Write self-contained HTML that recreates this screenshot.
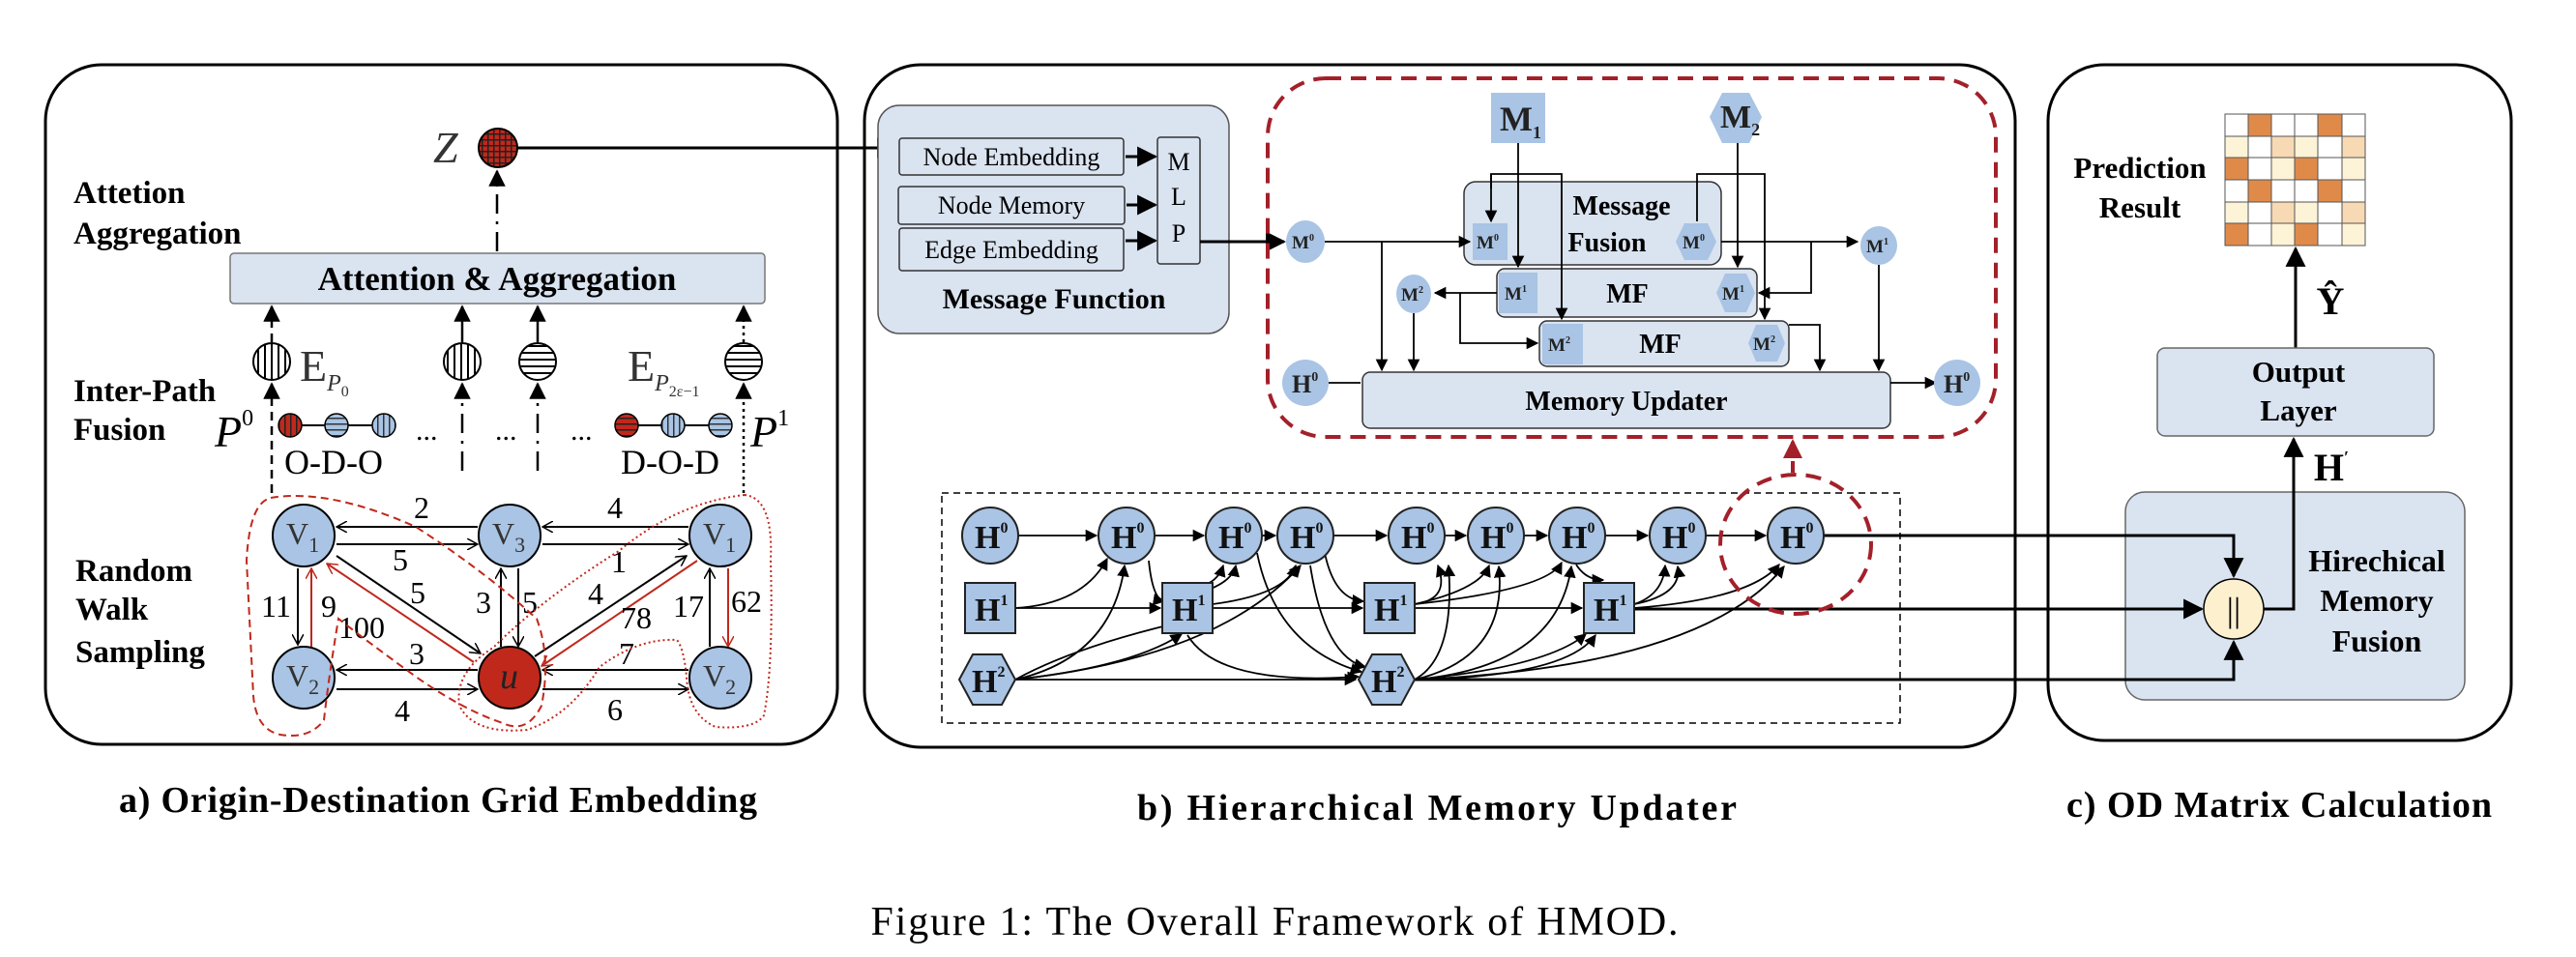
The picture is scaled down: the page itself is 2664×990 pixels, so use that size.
<!DOCTYPE html>
<html><head><meta charset="utf-8"><style>
html,body{margin:0;padding:0;background:#fff;}
svg{display:block;}
</style></head><body>
<svg width="2664" height="990" viewBox="0 0 2664 990" xmlns="http://www.w3.org/2000/svg" font-family="'Times New Roman','Liberation Serif',serif" style="font-family:'Times New Roman','Liberation Serif',serif">
<defs>
<marker id="a" viewBox="0 0 10 10" refX="9" refY="5" markerWidth="7" markerHeight="7" orient="auto"><path d="M0,0L10,5L0,10z" fill="#000"/></marker>
<marker id="o" viewBox="0 0 12 12" refX="11" refY="6" markerWidth="12" markerHeight="12" markerUnits="userSpaceOnUse" orient="auto"><path d="M0,0L11,6L0,12" fill="none" stroke="#000" stroke-width="1.5"/></marker>
<marker id="r" viewBox="0 0 12 12" refX="11" refY="6" markerWidth="12" markerHeight="12" markerUnits="userSpaceOnUse" orient="auto"><path d="M0,0L11,6L0,12" fill="none" stroke="#c0281c" stroke-width="1.5"/></marker>
<marker id="ra" viewBox="0 0 10 10" refX="9" refY="5" markerWidth="5" markerHeight="5" orient="auto"><path d="M0,0L10,5L0,10z" fill="#a3202a"/></marker>
<pattern id="vs" width="7" height="7" patternUnits="userSpaceOnUse"><rect width="7" height="7" fill="#fff"/><rect width="2" height="7" fill="#000"/></pattern>
<pattern id="hs" width="7" height="7" patternUnits="userSpaceOnUse"><rect width="7" height="7" fill="#fff"/><rect width="7" height="2" fill="#000"/></pattern>
<pattern id="vb" width="6" height="6" patternUnits="userSpaceOnUse"><rect width="6" height="6" fill="#a9c4e4"/><rect width="1.5" height="6" fill="#333"/></pattern>
<pattern id="hb" width="6" height="6" patternUnits="userSpaceOnUse"><rect width="6" height="6" fill="#a9c4e4"/><rect width="6" height="1.5" fill="#333"/></pattern>
<pattern id="vr" width="6" height="6" patternUnits="userSpaceOnUse"><rect width="6" height="6" fill="#c0281c"/><rect width="1.5" height="6" fill="#222"/></pattern>
<pattern id="hr" width="6" height="6" patternUnits="userSpaceOnUse"><rect width="6" height="6" fill="#c0281c"/><rect width="6" height="1.5" fill="#222"/></pattern>
<pattern id="gr" width="6" height="6" patternUnits="userSpaceOnUse"><rect width="6" height="6" fill="#c0281c"/><rect width="1.5" height="6" fill="#222"/><rect width="6" height="1.5" fill="#222"/></pattern>
</defs>

<!-- ===== Panel a ===== -->
<rect x="47" y="67" width="819" height="703" rx="58" fill="none" stroke="#000" stroke-width="3"/>
<text x="453" y="840" font-size="38" font-weight="bold" text-anchor="middle" textLength="660">a) Origin-Destination Grid Embedding</text>

<g font-weight="bold" font-size="33">
<text x="76" y="210">Attetion</text><text x="76" y="252">Aggregation</text>
<text x="76" y="415">Inter-Path</text><text x="76" y="455">Fusion</text>
<text x="78" y="601">Random</text><text x="78" y="641">Walk</text><text x="78" y="685">Sampling</text>
</g>

<text x="448" y="168" font-size="46" font-style="italic" fill="#333">Z</text>
<circle cx="515" cy="153" r="20" fill="url(#gr)" stroke="#000" stroke-width="2"/>
<line x1="535" y1="153" x2="926" y2="153" stroke="#000" stroke-width="3" marker-end="url(#a)"/>
<line x1="514" y1="260" x2="514" y2="177" stroke="#000" stroke-width="2.5" stroke-dasharray="20,8,3,8" marker-end="url(#a)"/>

<rect x="238" y="262" width="553" height="52" rx="4" fill="#dae3f0" stroke="#777" stroke-width="1.5"/>
<text x="514" y="300" font-size="35" font-weight="bold" text-anchor="middle">Attention &amp; Aggregation</text>

<circle cx="281" cy="374" r="19" fill="url(#vs)" stroke="#000" stroke-width="2"/>
<circle cx="478" cy="374" r="19" fill="url(#vs)" stroke="#000" stroke-width="2"/>
<circle cx="556" cy="374" r="19" fill="url(#hs)" stroke="#000" stroke-width="2"/>
<circle cx="769" cy="374" r="19" fill="url(#hs)" stroke="#000" stroke-width="2"/>
<line x1="281" y1="354" x2="281" y2="317" stroke="#000" stroke-width="2.5" stroke-dasharray="9,6" marker-end="url(#a)"/>
<line x1="478" y1="354" x2="478" y2="317" stroke="#000" stroke-width="2.5" marker-end="url(#a)"/>
<line x1="556" y1="354" x2="556" y2="317" stroke="#000" stroke-width="2.5" marker-end="url(#a)"/>
<line x1="769" y1="354" x2="769" y2="317" stroke="#000" stroke-width="2.5" stroke-dasharray="3,4" marker-end="url(#a)"/>
<text x="310" y="394" font-size="46" fill="#333">E<tspan font-size="24" font-style="italic" dy="10">P</tspan><tspan font-size="16" dy="6">0</tspan></text>
<text x="649" y="394" font-size="46" fill="#333">E<tspan font-size="24" font-style="italic" dy="10">P</tspan><tspan font-size="16" dy="6">2ε−1</tspan></text>

<line x1="300" y1="440" x2="397" y2="440" stroke="#000" stroke-width="2"/>
<circle cx="300" cy="440" r="12" fill="url(#vr)" stroke="#000" stroke-width="1.5"/>
<circle cx="348" cy="440" r="12" fill="url(#hb)" stroke="#000" stroke-width="1.5"/>
<circle cx="397" cy="440" r="12" fill="url(#vb)" stroke="#000" stroke-width="1.5"/>
<line x1="648" y1="440" x2="745" y2="440" stroke="#000" stroke-width="2"/>
<circle cx="648" cy="440" r="12" fill="url(#hr)" stroke="#000" stroke-width="1.5"/>
<circle cx="696" cy="440" r="12" fill="url(#vb)" stroke="#000" stroke-width="1.5"/>
<circle cx="745" cy="440" r="12" fill="url(#hb)" stroke="#000" stroke-width="1.5"/>
<text x="294" y="490" font-size="36">O-D-O</text>
<text x="642" y="490" font-size="36">D-O-D</text>
<text x="222" y="462" font-size="46" font-style="italic">P<tspan font-size="24" dy="-22" font-style="normal">0</tspan></text>
<text x="776" y="462" font-size="46" font-style="italic">P<tspan font-size="24" dy="-22" font-style="normal">1</tspan></text>
<g font-size="30"><text x="430" y="455">...</text><text x="512" y="455">...</text><text x="590" y="455">...</text></g>
<line x1="281" y1="510" x2="281" y2="397" stroke="#000" stroke-width="2.5" stroke-dasharray="9,6" marker-end="url(#a)"/>
<line x1="478" y1="487" x2="478" y2="397" stroke="#000" stroke-width="2.5" stroke-dasharray="20,8,3,8" marker-end="url(#a)"/>
<line x1="556" y1="487" x2="556" y2="397" stroke="#000" stroke-width="2.5" stroke-dasharray="20,8,3,8" marker-end="url(#a)"/>
<line x1="769" y1="510" x2="769" y2="397" stroke="#000" stroke-width="2.5" stroke-dasharray="3,4" marker-end="url(#a)"/>

<g stroke="#000" stroke-width="2" fill="none">
<line x1="494" y1="545" x2="348" y2="545" marker-end="url(#o)"/>
<line x1="348" y1="563" x2="494" y2="563" marker-end="url(#o)"/>
<line x1="712" y1="545" x2="561" y2="545" marker-end="url(#o)"/>
<line x1="561" y1="563" x2="712" y2="563" marker-end="url(#o)"/>
<line x1="308" y1="588" x2="308" y2="667" marker-end="url(#o)"/>
<line x1="494" y1="693" x2="348" y2="693" marker-end="url(#o)"/>
<line x1="348" y1="713" x2="494" y2="713" marker-end="url(#o)"/>
<line x1="712" y1="693" x2="561" y2="693" marker-end="url(#o)"/>
<line x1="561" y1="713" x2="712" y2="713" marker-end="url(#o)"/>
<line x1="518" y1="669" x2="518" y2="588" marker-end="url(#o)"/>
<line x1="536" y1="588" x2="536" y2="669" marker-end="url(#o)"/>
<line x1="348" y1="575" x2="497" y2="676" marker-end="url(#o)"/>
<line x1="553" y1="679" x2="710" y2="575" marker-end="url(#o)"/>
<line x1="734" y1="669" x2="734" y2="588" marker-end="url(#o)"/>
</g>
<g stroke="#c0281c" stroke-width="2" fill="none">
<line x1="322" y1="669" x2="322" y2="588" marker-end="url(#r)"/>
<line x1="490" y1="685" x2="338" y2="583" marker-end="url(#r)"/>
<line x1="721" y1="580" x2="560" y2="689" marker-end="url(#r)"/>
<line x1="753" y1="588" x2="753" y2="669" marker-end="url(#r)"/>
</g>
<g stroke="#000" stroke-width="2">
<circle cx="314" cy="554" r="32" fill="#a9c4e4"/><circle cx="527" cy="554" r="32" fill="#a9c4e4"/><circle cx="745" cy="554" r="32" fill="#a9c4e4"/>
<circle cx="314" cy="701" r="32" fill="#a9c4e4"/><circle cx="527" cy="701" r="32" fill="#c0281c"/><circle cx="745" cy="701" r="32" fill="#a9c4e4"/>
</g>
<g font-size="32" fill="#333">
<text x="296" y="563">V<tspan font-size="22" dy="8">1</tspan></text>
<text x="509" y="563">V<tspan font-size="22" dy="8">3</tspan></text>
<text x="727" y="563">V<tspan font-size="22" dy="8">1</tspan></text>
<text x="296" y="710">V<tspan font-size="22" dy="8">2</tspan></text>
<text x="727" y="710">V<tspan font-size="22" dy="8">2</tspan></text>
<text x="517" y="712" font-style="italic" font-size="38" fill="#222">u</text>
</g>
<g font-size="32">
<text x="428" y="536">2</text><text x="406" y="590">5</text><text x="628" y="536">4</text><text x="632" y="592">1</text>
<text x="270" y="638">11</text><text x="332" y="638">9</text><text x="424" y="624">5</text><text x="350" y="660">100</text>
<text x="492" y="634">3</text><text x="540" y="634">5</text><text x="608" y="625">4</text><text x="642" y="650">78</text>
<text x="696" y="638">17</text><text x="756" y="633">62</text>
<text x="423" y="687">3</text><text x="408" y="746">4</text><text x="640" y="687">7</text><text x="628" y="745">6</text>
</g>
<path d="M280,515 Q340,505 430,545 Q500,590 555,640 Q570,680 560,730 Q545,760 520,748 Q480,735 430,700 Q375,660 350,640 Q340,700 335,745 Q320,765 290,760 Q265,755 262,720 Q258,640 255,580 Q258,520 280,515Z" fill="none" stroke="#c0281c" stroke-width="2" stroke-dasharray="8,5"/>
<path d="M770,512 Q800,515 797,580 Q800,690 790,740 Q780,755 740,752 Q712,740 710,700 Q707,670 700,662 Q660,660 620,690 Q590,740 545,755 Q490,760 475,730 Q470,695 510,670 Q560,620 640,570 Q700,520 770,512Z" fill="none" stroke="#c0281c" stroke-width="2" stroke-dasharray="2,3"/>

<!-- ===== Panel b ===== -->
<rect x="894" y="67" width="1190" height="706" rx="58" fill="none" stroke="#000" stroke-width="3"/>
<text x="1486" y="848" font-size="38" font-weight="bold" text-anchor="middle" textLength="620">b) Hierarchical Memory Updater</text>

<rect x="908" y="109" width="363" height="236" rx="22" fill="#dae3f0" stroke="#555" stroke-width="1.5"/>
<g fill="#dae3f0" stroke="#333" stroke-width="1.5">
<rect x="930" y="143" width="232" height="38" rx="3"/>
<rect x="929" y="193" width="234" height="39" rx="3"/>
<rect x="930" y="236" width="232" height="44" rx="3"/>
<rect x="1197" y="142" width="44" height="131" rx="3"/>
</g>
<g font-size="26" text-anchor="middle">
<text x="1046" y="171">Node Embedding</text><text x="1046" y="221">Node Memory</text><text x="1046" y="267">Edge Embedding</text>
<text x="1219" y="176">M</text><text x="1219" y="212">L</text><text x="1219" y="250">P</text>
</g>
<text x="1090" y="319" font-size="30" font-weight="bold" text-anchor="middle">Message Function</text>
<g stroke="#000" stroke-width="3">
<line x1="1164" y1="162" x2="1195" y2="162" marker-end="url(#a)"/>
<line x1="1165" y1="212" x2="1195" y2="212" marker-end="url(#a)"/>
<line x1="1164" y1="249" x2="1195" y2="249" marker-end="url(#a)"/>
<line x1="1241" y1="250" x2="1328" y2="250" marker-end="url(#a)"/>
</g>

<rect x="1311" y="81" width="753" height="371" rx="60" fill="none" stroke="#a3202a" stroke-width="4" stroke-dasharray="16,10"/>
<line x1="1854" y1="489" x2="1854" y2="456" stroke="#a3202a" stroke-width="4" stroke-dasharray="12,8" marker-end="url(#ra)"/>

<g fill="#dae3f0" stroke="#333" stroke-width="1.5">
<rect x="1514" y="188" width="266" height="86" rx="12"/>
<rect x="1548" y="278" width="269" height="50" rx="8"/>
<rect x="1592" y="332" width="258" height="47" rx="8"/>
<rect x="1409" y="385" width="546" height="58" rx="8"/>
</g>
<g font-weight="bold" font-size="28" text-anchor="middle">
<text x="1677" y="222">Message</text><text x="1662" y="260">Fusion</text>
<text x="1683" y="313">MF</text><text x="1717" y="365">MF</text>
<text x="1682" y="424">Memory Updater</text>
</g>
<g stroke="#000" stroke-width="1.8" fill="none">
<line x1="1370" y1="250" x2="1520" y2="250" marker-end="url(#a)"/>
<polyline points="1570,148 1570,276" marker-end="url(#a)"/>
<polyline points="1542,195 1542,180 1615,180 1615,330" marker-end="url(#a)"/>
<polyline points="1542,180 1542,229" marker-end="url(#a)"/>
<polyline points="1797,148 1797,276" marker-end="url(#a)"/>
<polyline points="1755,229 1755,180 1825,180 1825,330" marker-end="url(#a)"/>
<line x1="1780" y1="250" x2="1921" y2="250" marker-end="url(#a)"/>
<polyline points="1873,250 1873,303 1819,303" marker-end="url(#a)"/>
<line x1="1548" y1="303" x2="1484" y2="303" marker-end="url(#a)"/>
<polyline points="1510,303 1510,355 1590,355" marker-end="url(#a)"/>
<polyline points="1850,336 1882,336 1882,383" marker-end="url(#a)"/>
<line x1="1943" y1="274" x2="1943" y2="383" marker-end="url(#a)"/>
<line x1="1429" y1="250" x2="1429" y2="383" marker-end="url(#a)"/>
<line x1="1462" y1="324" x2="1462" y2="383" marker-end="url(#a)"/>
<line x1="1370" y1="396" x2="1407" y2="396"/>
<line x1="1955" y1="396" x2="2002" y2="396" marker-end="url(#a)"/>
</g>
<g fill="#a9c4e4">
<rect x="1542" y="96" width="56" height="52"/>
<polygon points="1768,121 1781,96 1809,96 1822,121 1809,148 1781,148"/>
<ellipse cx="1350" cy="250" rx="20" ry="22"/>
<ellipse cx="1943" cy="254" rx="19" ry="20"/>
<ellipse cx="1462" cy="304" rx="18" ry="20"/>
<ellipse cx="1350" cy="396" rx="24" ry="24"/>
<ellipse cx="2024" cy="396" rx="24" ry="24"/>
<rect x="1523" y="231" width="36" height="38"/>
<polygon points="1733,250 1742,231 1766,231 1775,250 1766,269 1742,269"/>
<rect x="1550" y="282" width="40" height="42"/>
<polygon points="1775,303 1784,283 1806,283 1815,303 1806,323 1784,323"/>
<rect x="1595" y="335" width="42" height="42"/>
<polygon points="1808,355 1816,336 1838,336 1846,355 1838,374 1816,374"/>
</g>
<g font-weight="bold" fill="#222">
<text x="1551" y="135" font-size="36">M<tspan font-size="18" dy="8">1</tspan></text>
<text x="1779" y="132" font-size="34">M<tspan font-size="18" dy="8">2</tspan></text>
<g font-size="19">
<text x="1336" y="257">M<tspan font-size="10" dy="-8">0</tspan></text>
<text x="1930" y="261">M<tspan font-size="10" dy="-8">1</tspan></text>
<text x="1449" y="311">M<tspan font-size="10" dy="-8">2</tspan></text>
<text x="1527" y="257">M<tspan font-size="10" dy="-8">0</tspan></text>
<text x="1740" y="257">M<tspan font-size="10" dy="-8">0</tspan></text>
<text x="1556" y="310">M<tspan font-size="10" dy="-8">1</tspan></text>
<text x="1781" y="310">M<tspan font-size="10" dy="-8">1</tspan></text>
<text x="1601" y="363">M<tspan font-size="10" dy="-8">2</tspan></text>
<text x="1813" y="362">M<tspan font-size="10" dy="-8">2</tspan></text>
</g>
<text x="1336" y="406" font-size="26">H<tspan font-size="14" dy="-12">0</tspan></text>
<text x="2010" y="406" font-size="26">H<tspan font-size="14" dy="-12">0</tspan></text>
</g>

<rect x="974" y="510" width="991" height="238" fill="none" stroke="#000" stroke-width="1.5" stroke-dasharray="7,5"/>
<!-- panel c HMF box drawn early so lines appear on top -->
<rect x="2198" y="509" width="351" height="215" rx="20" fill="#dae3f0" stroke="#666" stroke-width="1.5"/>
<g stroke="#000" stroke-width="1.8" fill="none">
<line x1="1053" y1="554" x2="1134" y2="554" marker-end="url(#a)"/>
<line x1="1194" y1="554" x2="1245" y2="554" marker-end="url(#a)"/>
<line x1="1305" y1="554" x2="1319" y2="554" marker-end="url(#a)"/>
<line x1="1379" y1="554" x2="1434" y2="554" marker-end="url(#a)"/>
<line x1="1494" y1="554" x2="1516" y2="554" marker-end="url(#a)"/>
<line x1="1576" y1="554" x2="1600" y2="554" marker-end="url(#a)"/>
<line x1="1660" y1="554" x2="1704" y2="554" marker-end="url(#a)"/>
<line x1="1764" y1="554" x2="1826" y2="554" marker-end="url(#a)"/>
<line x1="1050" y1="629" x2="1200" y2="629" marker-end="url(#a)"/>
<line x1="1254" y1="629" x2="1409" y2="629" marker-end="url(#a)"/>
<line x1="1463" y1="629" x2="1636" y2="629" marker-end="url(#a)"/>
<line x1="1050" y1="703" x2="1402" y2="703" marker-end="url(#a)"/>
<path d="M1050,629 Q1120,625 1145,578" marker-end="url(#a)"/>
<path d="M1050,703 Q1150,680 1163,585" marker-end="url(#a)"/>
<path d="M1050,703 Q1110,670 1215,645" marker-end="url(#a)"/>
<path d="M1050,703 Q1170,690 1222,656" marker-end="url(#a)"/>
<path d="M1050,703 Q1260,680 1345,585" marker-end="url(#a)"/>
<path d="M1188,580 Q1192,620 1204,622" marker-end="url(#a)"/>
<path d="M1246,605 Q1260,600 1265,585" marker-end="url(#a)"/>
<path d="M1250,610 Q1275,600 1278,585" marker-end="url(#a)"/>
<path d="M1254,625 Q1330,615 1340,585" marker-end="url(#a)"/>
<path d="M1228,657 Q1260,710 1405,700" marker-end="url(#a)"/>
<path d="M1300,572 Q1320,670 1408,695" marker-end="url(#a)"/>
<path d="M1355,585 Q1370,680 1412,690" marker-end="url(#a)"/>
<path d="M1370,572 Q1380,620 1410,622" marker-end="url(#a)"/>
<path d="M1463,625 Q1500,620 1487,585" marker-end="url(#a)"/>
<path d="M1463,625 Q1530,610 1540,585" marker-end="url(#a)"/>
<path d="M1463,625 Q1600,610 1615,582" marker-end="url(#a)"/>
<path d="M1463,703 Q1505,680 1498,585" marker-end="url(#a)"/>
<path d="M1463,703 Q1560,680 1550,586" marker-end="url(#a)"/>
<path d="M1463,703 Q1610,690 1625,586" marker-end="url(#a)"/>
<path d="M1463,703 Q1600,690 1640,656" marker-end="url(#a)"/>
<path d="M1463,703 Q1620,700 1650,657" marker-end="url(#a)"/>
<path d="M1463,703 Q1760,690 1845,586" marker-end="url(#a)"/>
<path d="M1630,584 Q1640,600 1658,600" marker-end="url(#a)"/>
<path d="M1690,625 Q1720,615 1722,585" marker-end="url(#a)"/>
<path d="M1690,625 Q1740,615 1735,586" marker-end="url(#a)"/>
<path d="M1690,629 Q1810,620 1840,584" marker-end="url(#a)"/>
</g>
<g stroke="#000" stroke-width="3" fill="none">
<polyline points="1886,554 2310,554 2310,596" marker-end="url(#a)"/>
<line x1="1690" y1="630" x2="2277" y2="630" marker-end="url(#a)"/>
<polyline points="1463,703 2310,703 2310,664" marker-end="url(#a)"/>
</g>
<g fill="#a9c4e4" stroke="#222" stroke-width="2">
<circle cx="1024" cy="554" r="29"/><circle cx="1165" cy="554" r="29"/><circle cx="1276" cy="554" r="29"/><circle cx="1350" cy="554" r="29"/><circle cx="1465" cy="554" r="29"/><circle cx="1547" cy="554" r="29"/><circle cx="1631" cy="554" r="29"/><circle cx="1735" cy="554" r="29"/><circle cx="1857" cy="554" r="29"/>
<rect x="998" y="603" width="52" height="52"/><rect x="1202" y="603" width="52" height="52"/><rect x="1411" y="603" width="52" height="52"/><rect x="1638" y="603" width="52" height="52"/>
<polygon points="992,703 1006,677 1036,677 1050,703 1036,729 1006,729"/>
<polygon points="1405,703 1419,677 1449,677 1463,703 1449,729 1419,729"/>
</g>
<g font-weight="bold" font-size="34" fill="#111">
<text x="1008" y="567">H<tspan font-size="16" dy="-16">0</tspan></text>
<text x="1149" y="567">H<tspan font-size="16" dy="-16">0</tspan></text>
<text x="1260" y="567">H<tspan font-size="16" dy="-16">0</tspan></text>
<text x="1334" y="567">H<tspan font-size="16" dy="-16">0</tspan></text>
<text x="1449" y="567">H<tspan font-size="16" dy="-16">0</tspan></text>
<text x="1531" y="567">H<tspan font-size="16" dy="-16">0</tspan></text>
<text x="1615" y="567">H<tspan font-size="16" dy="-16">0</tspan></text>
<text x="1719" y="567">H<tspan font-size="16" dy="-16">0</tspan></text>
<text x="1841" y="567">H<tspan font-size="16" dy="-16">0</tspan></text>
<text x="1008" y="642">H<tspan font-size="16" dy="-16">1</tspan></text>
<text x="1212" y="642">H<tspan font-size="16" dy="-16">1</tspan></text>
<text x="1421" y="642">H<tspan font-size="16" dy="-16">1</tspan></text>
<text x="1648" y="642">H<tspan font-size="16" dy="-16">1</tspan></text>
<text x="1005" y="716">H<tspan font-size="16" dy="-16">2</tspan></text>
<text x="1418" y="716">H<tspan font-size="16" dy="-16">2</tspan></text>
</g>
<ellipse cx="1857" cy="563" rx="78" ry="72" fill="none" stroke="#a3202a" stroke-width="4" stroke-dasharray="16,10"/>

<!-- ===== Panel c ===== -->
<rect x="2118" y="67" width="479" height="699" rx="58" fill="none" stroke="#000" stroke-width="3"/>
<text x="2357" y="845" font-size="38" font-weight="bold" text-anchor="middle" textLength="440">c) OD Matrix Calculation</text>
<g font-weight="bold" font-size="31" text-anchor="middle">
<text x="2213" y="184">Prediction</text><text x="2213" y="225">Result</text>
</g>
<g stroke="#555" stroke-width="1">
<rect x="2301" y="118" width="24" height="23" fill="#fff"/><rect x="2325" y="118" width="24" height="23" fill="#e08a4a"/><rect x="2349" y="118" width="24" height="23" fill="#fff"/><rect x="2373" y="118" width="24" height="23" fill="#fff"/><rect x="2397" y="118" width="25" height="23" fill="#e08a4a"/><rect x="2422" y="118" width="24" height="23" fill="#fff"/>
<rect x="2301" y="141" width="24" height="22" fill="#fdf3d6"/><rect x="2325" y="141" width="24" height="22" fill="#fff"/><rect x="2349" y="141" width="24" height="22" fill="#f7d9b3"/><rect x="2373" y="141" width="24" height="22" fill="#fdf3d6"/><rect x="2397" y="141" width="25" height="22" fill="#fff"/><rect x="2422" y="141" width="24" height="22" fill="#f7d9b3"/>
<rect x="2301" y="163" width="24" height="23" fill="#e08a4a"/><rect x="2325" y="163" width="24" height="23" fill="#fff"/><rect x="2349" y="163" width="24" height="23" fill="#fdf3d6"/><rect x="2373" y="163" width="24" height="23" fill="#e08a4a"/><rect x="2397" y="163" width="25" height="23" fill="#fff"/><rect x="2422" y="163" width="24" height="23" fill="#fdf3d6"/>
<rect x="2301" y="186" width="24" height="23" fill="#fff"/><rect x="2325" y="186" width="24" height="23" fill="#e08a4a"/><rect x="2349" y="186" width="24" height="23" fill="#fff"/><rect x="2373" y="186" width="24" height="23" fill="#fff"/><rect x="2397" y="186" width="25" height="23" fill="#e08a4a"/><rect x="2422" y="186" width="24" height="23" fill="#fff"/>
<rect x="2301" y="209" width="24" height="22" fill="#fdf3d6"/><rect x="2325" y="209" width="24" height="22" fill="#fff"/><rect x="2349" y="209" width="24" height="22" fill="#f7d9b3"/><rect x="2373" y="209" width="24" height="22" fill="#fdf3d6"/><rect x="2397" y="209" width="25" height="22" fill="#fff"/><rect x="2422" y="209" width="24" height="22" fill="#f7d9b3"/>
<rect x="2301" y="231" width="24" height="23" fill="#e08a4a"/><rect x="2325" y="231" width="24" height="23" fill="#fff"/><rect x="2349" y="231" width="24" height="23" fill="#fdf3d6"/><rect x="2373" y="231" width="24" height="23" fill="#e08a4a"/><rect x="2397" y="231" width="25" height="23" fill="#fff"/><rect x="2422" y="231" width="24" height="23" fill="#fdf3d6"/>
</g>
<line x1="2374" y1="360" x2="2374" y2="257" stroke="#000" stroke-width="3" marker-end="url(#a)"/>
<text x="2410" y="325" font-size="40" font-weight="bold" text-anchor="middle">Ŷ</text>
<rect x="2231" y="360" width="286" height="91" rx="8" fill="#dae3f0" stroke="#666" stroke-width="1.5"/>
<g font-weight="bold" font-size="31" text-anchor="middle">
<text x="2377" y="395">Output</text><text x="2377" y="435">Layer</text>
</g>
<text x="2411" y="497" font-size="40" font-weight="bold" text-anchor="middle">H<tspan font-size="18" dy="-18">′</tspan></text>
<g font-weight="bold" font-size="32" text-anchor="middle">
<text x="2458" y="591">Hirechical</text><text x="2458" y="632">Memory</text><text x="2458" y="674">Fusion</text>
</g>
<polyline points="2341,630 2372,630 2372,454" fill="none" stroke="#000" stroke-width="3" marker-end="url(#a)"/>
<ellipse cx="2310" cy="630" rx="31" ry="31" fill="#fdf0cf" stroke="#000" stroke-width="1.5"/>
<text x="2310" y="643" font-size="36" text-anchor="middle">||</text>

<text x="1318" y="967" font-size="42" text-anchor="middle" textLength="835">Figure 1: The Overall Framework of HMOD.</text>
</svg>
</body></html>
